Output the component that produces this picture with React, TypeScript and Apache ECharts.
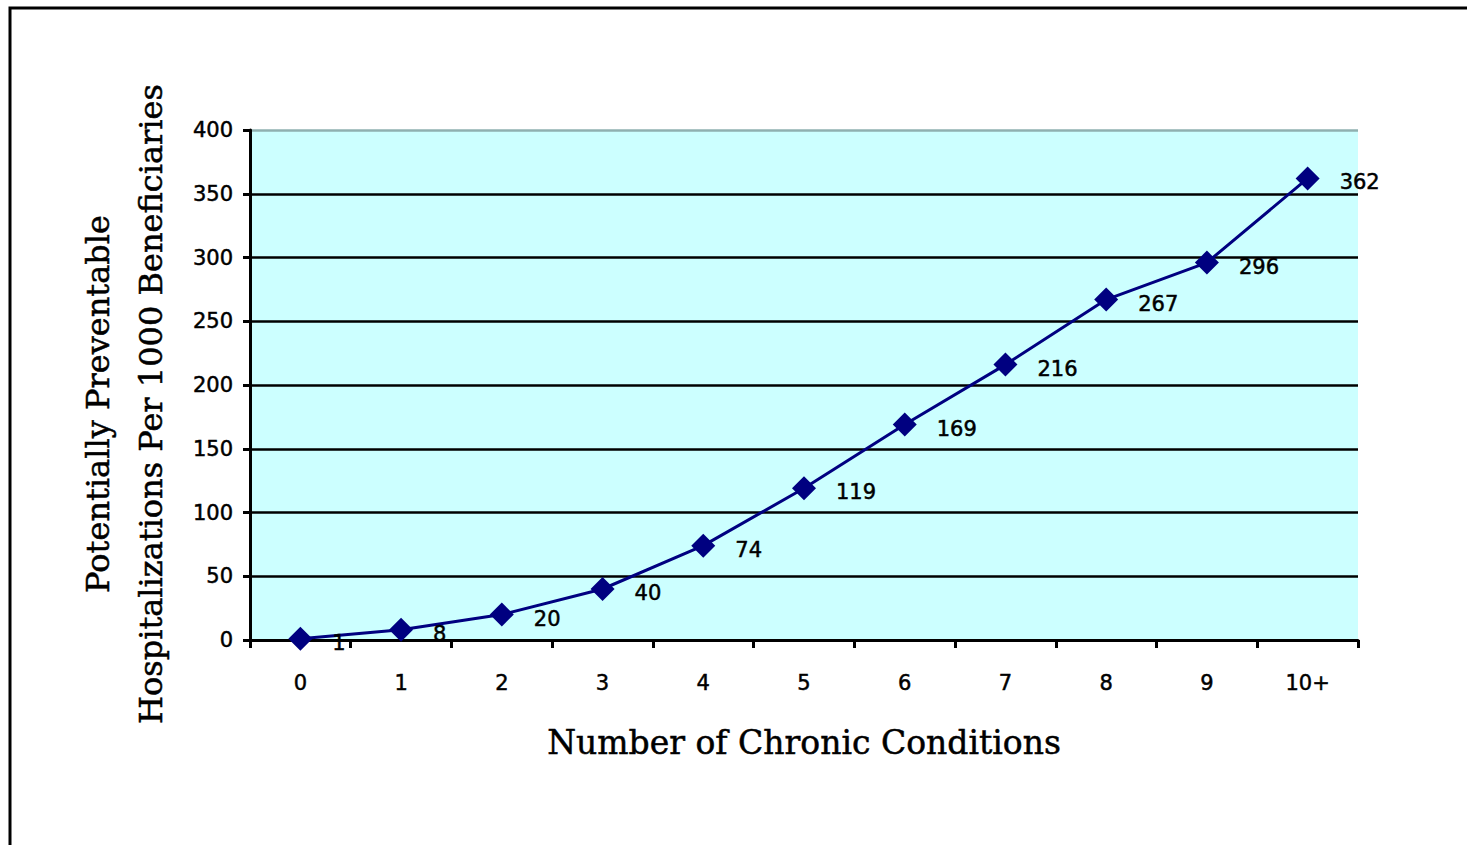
import React, { useEffect, useRef } from "react";
import * as echarts from "echarts";

const categories = ["0", "1", "2", "3", "4", "5", "6", "7", "8", "9", "10+"];
const values = [1, 8, 20, 40, 74, 119, 169, 216, 267, 296, 362];
const yTitle = "Potentially Preventable\nHospitalizations Per 1000 Beneficiaries";
const xTitle = "Number of Chronic Conditions";

export default function App() {
  const ref = useRef<HTMLDivElement>(null);
  useEffect(() => {
    if (!ref.current) return;
    const chart = echarts.init(ref.current, null, { renderer: "svg" });
    const numFont = "'DejaVu Sans', Verdana, sans-serif";
    const serif = "'DejaVu Serif', 'Liberation Serif', serif";
    const thick = { textBorderColor: "#000", textBorderWidth: 0.5 };
    chart.setOption({
      animation: false,
      backgroundColor: "#ffffff",
      grid: {
        left: 250,
        right: 109,
        top: 130,
        bottom: 205,
        show: true,
        backgroundColor: "#CCFFFF",
        borderWidth: 0,
      },
      graphic: [
        {
          type: "rect",
          shape: { x: 10, y: 8, width: 1700, height: 1000 },
          style: { fill: "none", stroke: "#000", lineWidth: 3 },
          silent: true,
        },
        {
          type: "text",
          x: 124,
          y: 404,
          rotation: Math.PI / 2,
          style: {
            text: yTitle,
            font: `32px ${serif}`,
            fill: "#000",
            align: "center",
            verticalAlign: "middle",
            lineHeight: 53,
            stroke: "#000",
            lineWidth: 0.5,
          },
        },
      ],
      xAxis: {
        type: "category",
        data: categories,
        boundaryGap: true,
        name: xTitle,
        nameLocation: "middle",
        nameGap: 86,
        nameTextStyle: { fontFamily: serif, fontSize: 33, color: "#000", ...thick },
        axisLine: { lineStyle: { color: "#000", width: 3 } },
        axisTick: { show: true, length: 8, lineStyle: { color: "#000", width: 3 } },
        axisLabel: { color: "#000", fontFamily: numFont, fontSize: 21, margin: 32, ...thick },
        splitLine: { show: false },
      },
      yAxis: {
        type: "value",
        min: 0,
        max: 400,
        interval: 50,
        axisLine: { show: true, lineStyle: { color: "#000", width: 3 } },
        axisTick: { show: true, length: 7, lineStyle: { color: "#000", width: 3 } },
        axisLabel: { color: "#000", fontFamily: numFont, fontSize: 21, margin: 17, ...thick },
        splitLine: {
          show: true,
          lineStyle: {
            color: ["#000", "#000", "#000", "#000", "#000", "#000", "#000", "#000", "#8fb0b0"],
            width: 2.5,
          },
        },
      },
      series: [
        {
          type: "line",
          data: values,
          symbol: "diamond",
          symbolSize: 24,
          lineStyle: { color: "#000080", width: 3 },
          itemStyle: { color: "#000080" },
          label: {
            show: true,
            position: "right",
            distance: 20,
            offset: [0, 4],
            color: "#000",
            fontFamily: numFont,
            fontSize: 21,
            ...thick,
          },
        },
      ],
    });
    return () => chart.dispose();
  }, []);
  return (
    <div
      ref={ref}
      style={{ position: "fixed", left: 0, top: 0, width: 1467, height: 845 }}
    />
  );
}
